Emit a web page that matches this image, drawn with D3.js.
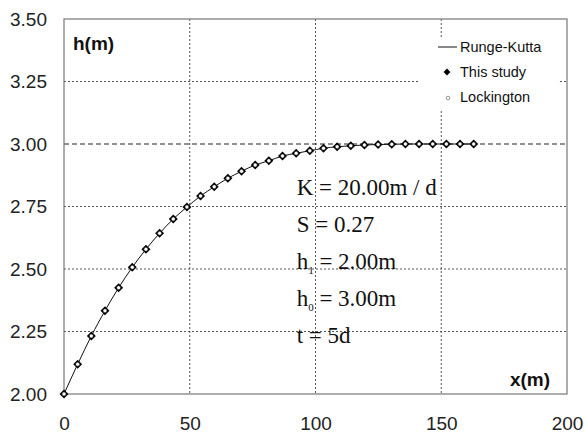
<!DOCTYPE html>
<html>
<head>
<meta charset="utf-8">
<script src="https://cdn.jsdelivr.net/npm/d3@7"></script>
<style>
  body { margin: 0; background: #fff; }
  svg text { font-family: Arial, "Liberation Sans", sans-serif; }
</style>
</head>
<body>
<svg id="chart" width="585" height="436"></svg>
<script>
// data
var xStep = 5.43;
var hValues = [2.000, 2.119, 2.232, 2.333, 2.425, 2.507, 2.579, 2.643, 2.700, 2.748,
               2.792, 2.829, 2.863, 2.891, 2.916, 2.933, 2.952, 2.963, 2.973, 2.983,
               2.989, 2.993, 2.996, 2.998, 2.999, 3.000, 3.000, 3.000, 3.000, 3.000, 3.000];
var xTicks = [0, 50, 100, 150, 200];
var yTicks = [2.00, 2.25, 2.50, 2.75, 3.00, 3.25, 3.50];
var legendNames = ["Runge-Kutta", "This study", "Lockington"];
var params = ["K = 20.00m / d", "S = 0.27", "h|1| = 2.00m", "h|0| = 3.00m", "t = 5d"];
var h0 = 3.00;

var data = hValues.map(function(h, i) { return {x: i * xStep, h: h}; });

var svg = d3.select("#chart"),
    margin = {top: 19, right: 18, bottom: 42, left: 64},
    width = +svg.attr("width") - margin.left - margin.right,
    height = +svg.attr("height") - margin.top - margin.bottom;

var g = svg.append("g")
    .attr("transform", "translate(" + margin.left + "," + margin.top + ")");

var x = d3.scaleLinear().domain([0, 200]).range([0, width]);
var y = d3.scaleLinear().domain([2, 3.5]).range([height, 0]);

// grid
g.selectAll(".vgrid")
    .data(xTicks.slice(1, -1))
  .enter().append("line")
    .attr("x1", function(d) { return x(d); })
    .attr("x2", function(d) { return x(d); })
    .attr("y1", 0).attr("y2", height)
    .style("stroke", "#555").style("stroke-dasharray", "2,2");

g.selectAll(".hgrid")
    .data(yTicks.filter(function(d) { return d > 2 && d < 3.5 && d !== h0; }))
  .enter().append("line")
    .attr("x1", 0).attr("x2", width)
    .attr("y1", function(d) { return y(d); })
    .attr("y2", function(d) { return y(d); })
    .style("stroke", "#555").style("stroke-dasharray", "2,2");

// h0 level
g.append("line")
    .attr("x1", 0).attr("x2", width)
    .attr("y1", y(h0)).attr("y2", y(h0))
    .style("stroke", "#222").style("stroke-dasharray", "5,3");

// frame
g.append("rect")
    .attr("width", width).attr("height", height)
    .style("fill", "none").style("stroke", "#777").style("stroke-width", 1.2);

// axes
var xAxis = g.append("g")
    .attr("transform", "translate(0," + height + ")")
    .call(d3.axisBottom(x).tickValues(xTicks).tickSize(0).tickPadding(23));
var yAxis = g.append("g")
    .call(d3.axisLeft(y).tickValues(yTicks).tickSize(0).tickPadding(17)
      .tickFormat(d3.format(".2f")));
[xAxis, yAxis].forEach(function(a) {
  a.select(".domain").remove();
  a.selectAll("text").style("font-size", "19px").style("fill", "#222")
    .style("font-family", "Arial, 'Liberation Sans', sans-serif");
});

// legend background
var lg = g.append("g").attr("transform", "translate(" + (x(141.5)) + ",18)");
lg.append("rect").attr("width", 138).attr("height", 73).style("fill", "#fff");

// Runge-Kutta line
var line = d3.line()
    .x(function(d) { return x(d.x); })
    .y(function(d) { return y(d.h); })
    .curve(d3.curveMonotoneX);

g.append("path")
    .datum(data)
    .attr("d", line)
    .style("fill", "none").style("stroke", "#111").style("stroke-width", 1);

// This study: filled diamonds (square turned 45 degrees)
var diamond = d3.symbol().type(d3.symbolSquare).size(40);
g.selectAll(".study")
    .data(data)
  .enter().append("path")
    .attr("d", diamond)
    .attr("transform", function(d) { return "translate(" + x(d.x) + "," + y(d.h) + ") rotate(45)"; })
    .style("fill", "#000");

// Lockington: small open circles
g.selectAll(".lock")
    .data(data)
  .enter().append("circle")
    .attr("cx", function(d) { return x(d.x); })
    .attr("cy", function(d) { return y(d.h); })
    .attr("r", 2)
    .style("fill", "#fff").style("stroke", "#000").style("stroke-width", 0.5);

// legend entries (baselines at 52, 77, 102 on the page)
var lx = 460 - margin.left - x(141.5), ty = [15, 40, 65];
lg.append("line").attr("x1", lx - 22).attr("x2", lx - 3).attr("y1", ty[0] - 5).attr("y2", ty[0] - 5)
    .style("stroke", "#111");
lg.append("path").attr("d", d3.symbol().type(d3.symbolSquare).size(24))
    .attr("transform", "translate(" + (lx - 13) + "," + (ty[1] - 5) + ") rotate(45)").style("fill", "#000");
lg.append("circle").attr("cx", lx - 12).attr("cy", ty[2] - 4).attr("r", 1.8)
    .style("fill", "#fff").style("stroke", "#666").style("stroke-width", 0.7);
lg.selectAll(".ltext")
    .data(legendNames)
  .enter().append("text")
    .attr("x", lx)
    .attr("y", function(d, i) { return ty[i]; })
    .style("font-size", "14.5px").style("fill", "#111")
    .text(function(d) { return d; });

// axis titles
g.append("text").attr("x", 9).attr("y", 31)
    .style("font-size", "19px").style("font-weight", "bold").style("fill", "#111").text("h(m)");
g.append("text").attr("x", width - 17).attr("y", height - 8).attr("text-anchor", "end")
    .style("font-size", "19px").style("font-weight", "bold").style("fill", "#111").text("x(m)");

// parameters
var pt = g.selectAll(".param")
    .data(params)
  .enter().append("text")
    .attr("x", x(92.5))
    .attr("y", function(d, i) { return 176 + i * 37; })
    .style("font-family", "'Liberation Serif', 'Times New Roman', serif")
    .style("font-size", "23px").style("fill", "#111");
pt.each(function(d) {
  var parts = d.split("|");
  var t = d3.select(this);
  t.append("tspan").text(parts[0]);
  if (parts.length > 1) {
    t.append("tspan").attr("dy", 5).style("font-size", "11px").text(parts[1]);
    t.append("tspan").attr("dy", -5).text(parts[2]);
  }
});
</script>
</body>
</html>
